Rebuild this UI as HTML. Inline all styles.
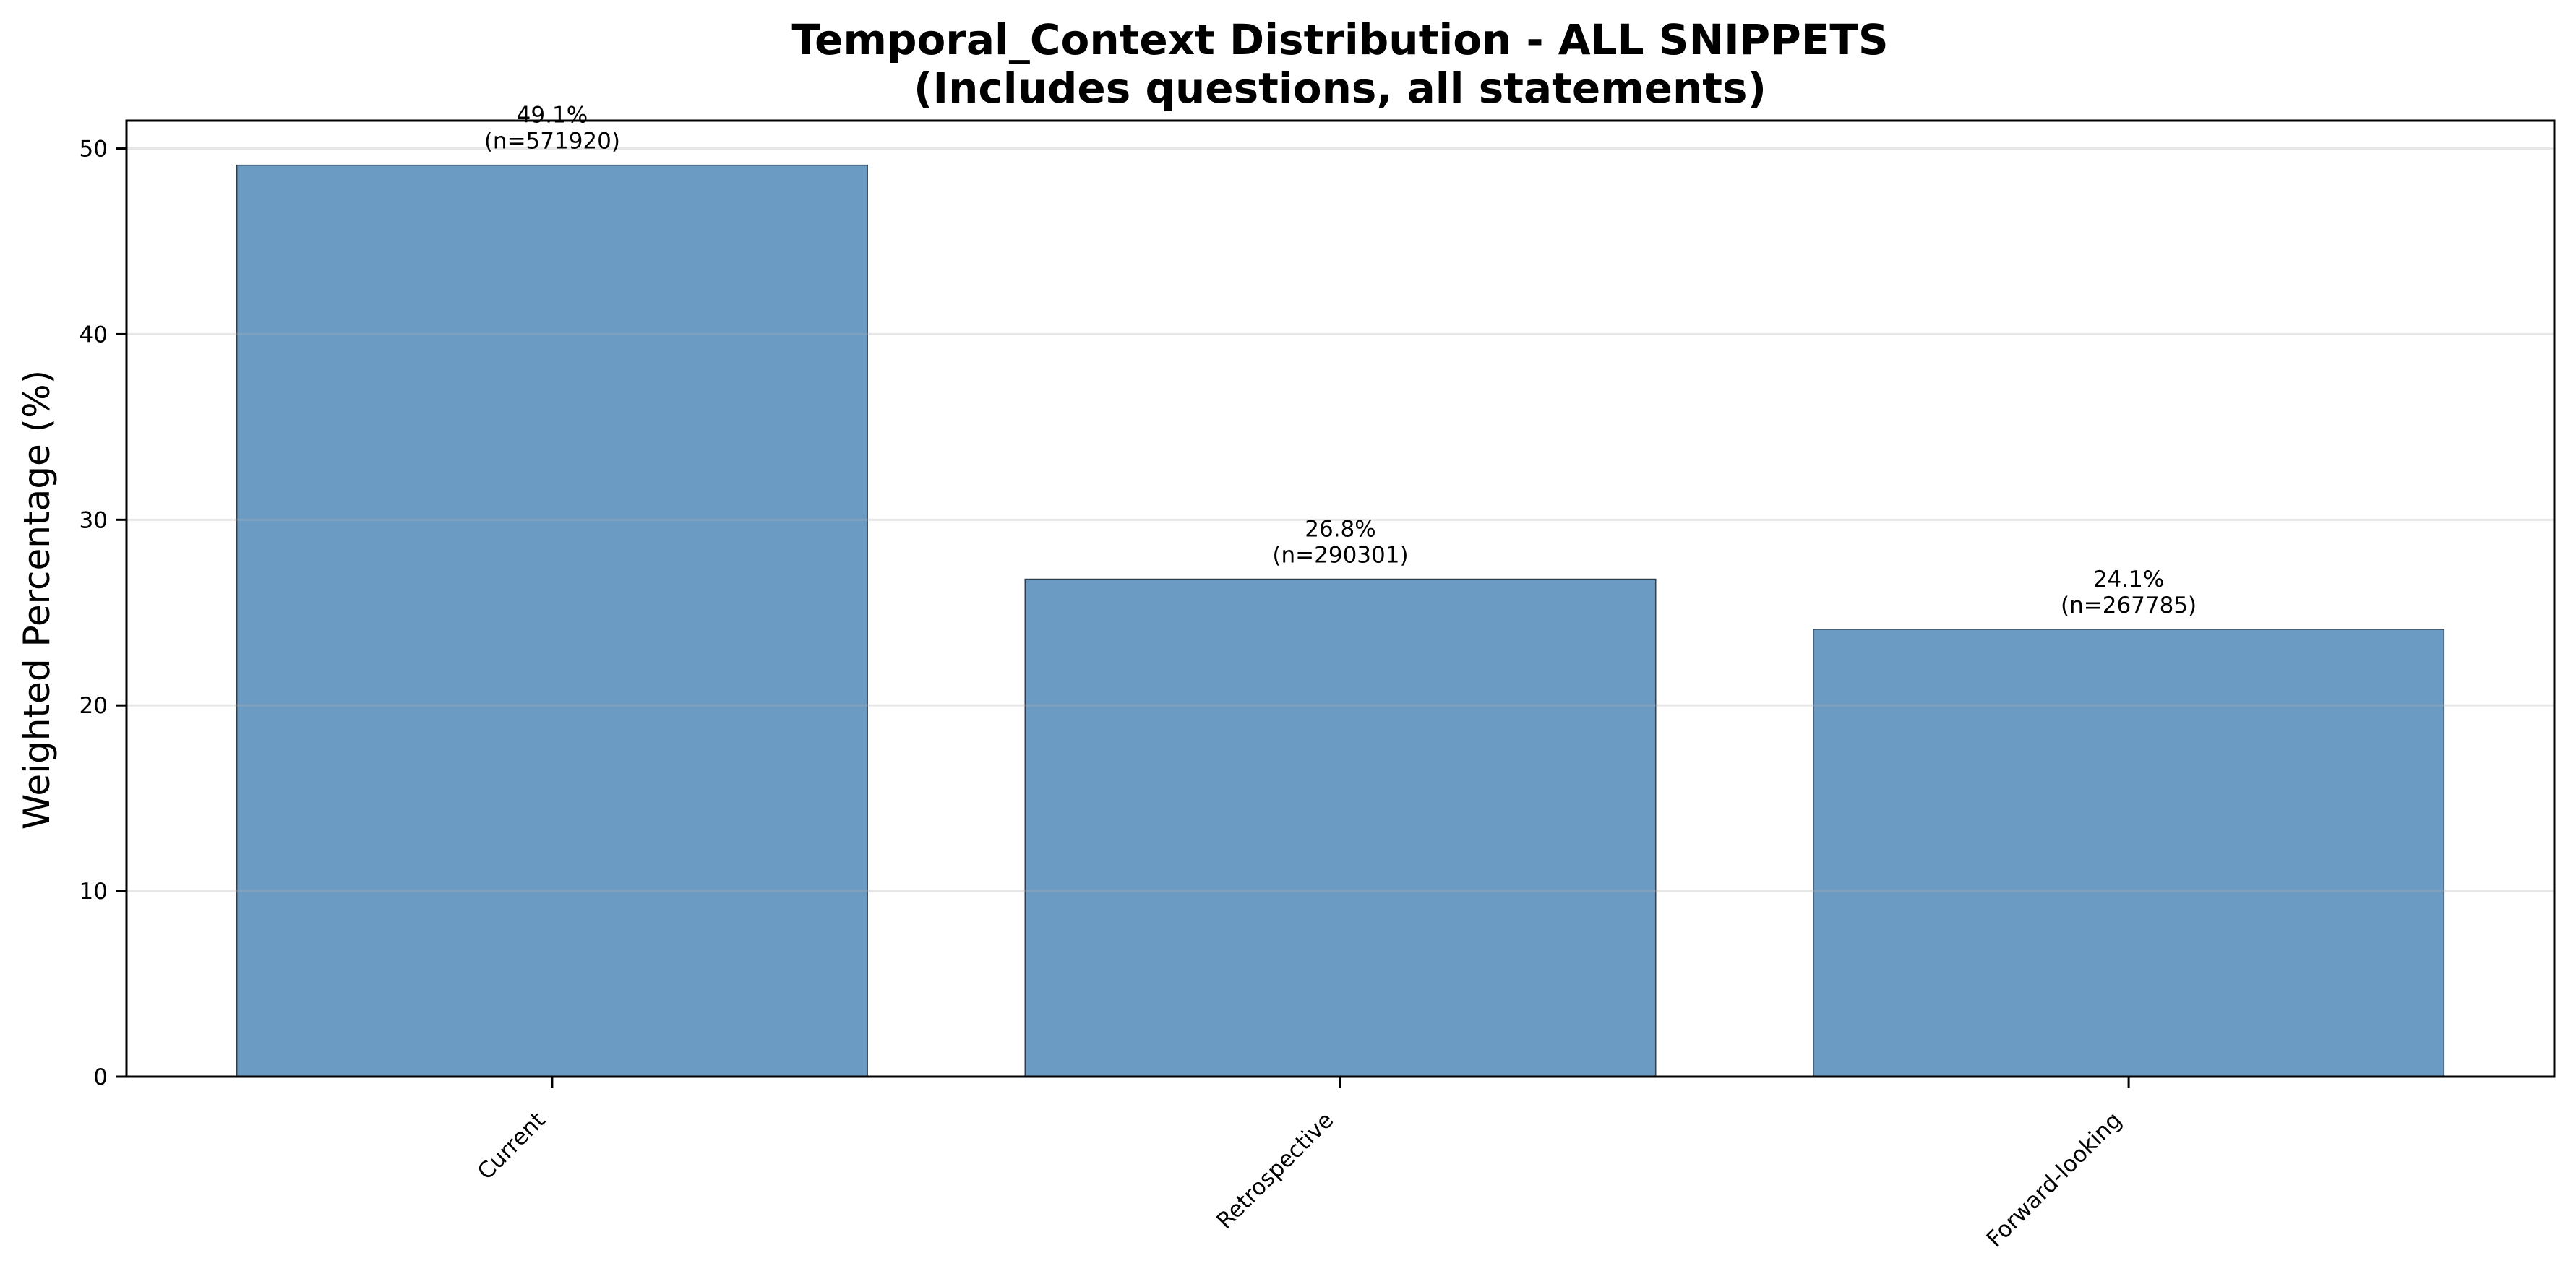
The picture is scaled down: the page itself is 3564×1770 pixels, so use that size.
<!DOCTYPE html>
<html><head><meta charset="utf-8"><style>
html,body{margin:0;padding:0;background:#fff;}
svg{display:block;font-family:"DejaVu Sans","Liberation Sans",sans-serif;}
</style></head><body>
<svg id="chart" width="3564" height="1770" viewBox="0 0 3564 1770" xmlns="http://www.w3.org/2000/svg">
<rect x="0" y="0" width="3564" height="1770" fill="#fff"/>
<text x="1854" y="75" text-anchor="middle" font-size="58" font-weight="bold">Temporal_Context Distribution - ALL SNIPPETS</text>
<text x="1854" y="142" text-anchor="middle" font-size="58" font-weight="bold">(Includes questions, all statements)</text>
<text transform="translate(68,830) rotate(-90)" text-anchor="middle" font-size="50">Weighted Percentage (%)</text>
<g id="bars"></g>
<g id="grid"></g>
<g id="labels"></g>
<g id="yticks"></g>
<g id="xticks"></g>
<rect x="175" y="167" width="3359" height="1323" fill="none" stroke="#000" stroke-width="3"/>
</svg>
<script>
const categories = ["Current", "Retrospective", "Forward-looking"];
const values = [49.1, 26.8, 24.1];
const counts = [571920, 290301, 267785];
const yTicks = [0, 10, 20, 30, 40, 50];

const NS = "http://www.w3.org/2000/svg";
const L = 175, R = 3534, T = 167, B = 1490;
const xMin = -0.54, xMax = 2.54, yMin = 0, yMax = 51.5;
function xs(v){ return L + (v - xMin) / (xMax - xMin) * (R - L); }
function ys(v){ return B - (v - yMin) / (yMax - yMin) * (B - T); }
function mk(tag, attrs, parent){
  const e = document.createElementNS(NS, tag);
  for (const k in attrs) e.setAttribute(k, attrs[k]);
  parent.appendChild(e);
  return e;
}
const gBars = document.getElementById("bars");
const gGrid = document.getElementById("grid");
const gLab = document.getElementById("labels");
const gY = document.getElementById("yticks");
const gX = document.getElementById("xticks");

yTicks.forEach(t => {
  const y = ys(t);
  const gl = mk("line", {x1: L, x2: R, y1: y, y2: y, stroke: "#b0b0b0", "stroke-opacity": 0.3, "stroke-width": 3}, gGrid);
  
  
  const tk = mk("line", {x1: L - 15, x2: L, y1: y, y2: y, stroke: "#000", "stroke-width": 3}, gY);
  
  
  const tx = mk("text", {x: L - 26, y: y + 11, "text-anchor": "end", "font-size": 31}, gY);
  tx.textContent = String(t);
  
  
});

categories.forEach((c, i) => {
  const x0 = xs(i - 0.4), x1 = xs(i + 0.4), yt = ys(values[i]);
  const b = mk("rect", {x: x0, y: yt, width: x1 - x0, height: B - yt, fill: "#6b9bc3", stroke: "#2e3e4e", "stroke-width": 1.5}, gBars);
  
  
  const cx = xs(i);
  const l1 = mk("text", {x: cx, y: yt - 59, "text-anchor": "middle", "font-size": 31}, gLab);
  l1.textContent = values[i].toFixed(1) + "%";
  
  
  const l2 = mk("text", {x: cx, y: yt - 23, "text-anchor": "middle", "font-size": 31}, gLab);
  l2.textContent = "(n=" + counts[i] + ")";
  
  
  const tk = mk("line", {x1: cx, x2: cx, y1: B, y2: B + 15, stroke: "#000", "stroke-width": 3}, gX);
  
  
  const ax = cx - 8, ay = 1552;
  const tx = mk("text", {x: ax, y: ay, "text-anchor": "end", "font-size": 31, transform: "rotate(-45," + ax + "," + ay + ")"}, gX);
  tx.textContent = c;
  
  
});
</script>
</body></html>
